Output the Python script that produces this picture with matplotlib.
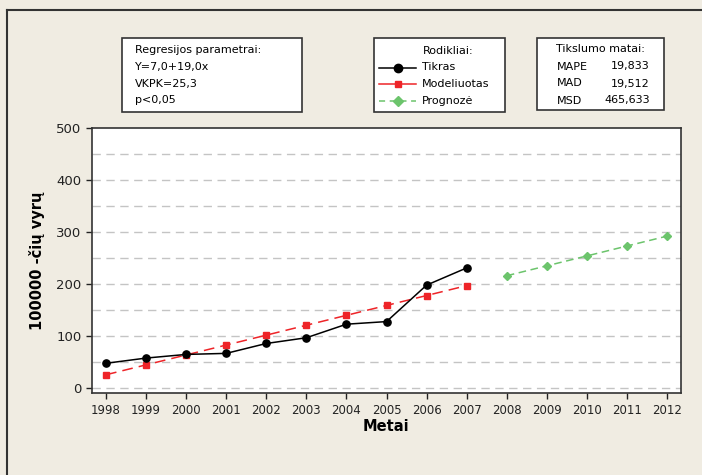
import matplotlib
matplotlib.use("Agg")
import matplotlib.pyplot as plt
from matplotlib.patches import Rectangle
from matplotlib.lines import Line2D

plt.rcParams['font.family'] = ['DejaVu Sans']

years_actual = [1998, 1999, 2000, 2001, 2002, 2003, 2004, 2005, 2006, 2007]
tikras = [48, 58, 65, 67, 86, 97, 123, 128, 198, 231]
modeliuotas = [26, 45, 64, 83, 102, 121, 140, 159, 178, 197]
years_forecast = [2008, 2009, 2010, 2011, 2012]
prognoze = [216, 235, 254, 273, 292]

regression_lines = ['Regresijos parametrai:', 'Y=7,0+19,0x', 'VKPK=25,3', 'p<0,05']
accuracy_names = ['MAPE', 'MAD', 'MSD']
accuracy_values = ['19,833', '19,512', '465,633']

BG = '#F0ECE2'
RED = '#EE2428'
GREEN = '#6CC46C'
W, H = 702, 475

fig = plt.figure(figsize=(W / 100, H / 100), dpi=100, facecolor=BG)

def fx(x):
    return x / W

def fy(y):
    return 1 - y / H

# outer frame (top and left edges visible)
fig.add_artist(Line2D([fx(7), fx(7)], [fy(10), 0], color='#333333', lw=1.5))
fig.add_artist(Line2D([fx(7), 1], [fy(10), fy(10)], color='#333333', lw=1.5))

ax = fig.add_axes([fx(92), fy(393.3), fx(680.7) - fx(92), fy(127.7) - fy(393.3)])
ax.set_facecolor('white')

ax.plot(years_actual, tikras, color='black', lw=1.1, marker='o', ms=5.2, zorder=4)
ax.plot(years_actual, modeliuotas, color=RED, lw=1.1, ls=(0, (7, 4)),
        marker='s', ms=4.2, zorder=3)
ax.plot(years_forecast, prognoze, color=GREEN, lw=1.1, ls=(0, (5, 3)),
        marker='D', ms=4.5, zorder=3)

ax.set_xlim(1997.65, 2012.34)
ax.set_ylim(-9.6, 500)
ax.set_xticks(years_actual + years_forecast)
ax.set_yticks([0, 100, 200, 300, 400, 500])
for g in range(0, 500, 50):
    ax.axhline(g, color='#C4C4C4', lw=1, ls=(0, (6, 4)), zorder=1)
ax.tick_params(direction='out', length=4, width=1, colors='#222222', labelsize=8.5)
ax.tick_params(axis='y', labelsize=9.5)
for s in ax.spines.values():
    s.set_color('#333333')
    s.set_linewidth(1.2)

ax.set_xlabel('Metai', fontsize=10.5, fontweight='bold', labelpad=2)
ax.set_ylabel('100000 -čių vyrų', fontsize=10.5, fontweight='bold', labelpad=8)

def box(x0, y0, x1, y1):
    fig.add_artist(Rectangle((fx(x0), fy(y1)), fx(x1) - fx(x0), fy(y0) - fy(y1),
                             facecolor='white', edgecolor='#333333', lw=1.2,
                             transform=fig.transFigure))

# regression box
box(122, 38, 302, 112)
for i, t in enumerate(regression_lines):
    fig.text(fx(135), fy(50 + i * 16.8), t, fontsize=8, va='center', ha='left')

# legend box
box(374, 38, 505, 112)
fig.text(fx(448), fy(51), 'Rodikliai:', fontsize=8, va='center', ha='center')
legend_items = [('Tikras', 'black', '-', 'o', 6),
                ('Modeliuotas', RED, '-', 's', 5),
                ('Prognozė', GREEN, (0, (4, 3)), 'D', 5)]
for i, (lab, c, ls, mk, ms) in enumerate(legend_items):
    yy = fy(67.5 + i * 16.8)
    fig.add_artist(Line2D([fx(379), fx(416)], [yy, yy], color=c, lw=1.1, ls=ls))
    fig.add_artist(Line2D([fx(397.5)], [yy], color=c, marker=mk, ms=ms, ls='none'))
    fig.text(fx(422), yy, lab, fontsize=8, va='center', ha='left')

# accuracy box
box(537, 38, 664, 110)
fig.text(fx(600), fy(48.5), 'Tikslumo matai:', fontsize=8, va='center', ha='center')
for i, (n, v) in enumerate(zip(accuracy_names, accuracy_values)):
    yy = fy(66.5 + i * 17)
    fig.text(fx(557), yy, n, fontsize=8, va='center', ha='left')
    fig.text(fx(650), yy, v, fontsize=8, va='center', ha='right')

fig.savefig('out.png', dpi=100, facecolor=BG)
